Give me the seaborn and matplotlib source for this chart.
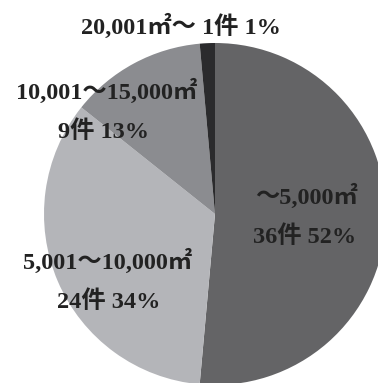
import matplotlib
matplotlib.use("Agg")
import matplotlib.pyplot as plt
import seaborn as sns

# Floor-area brackets, number of cases per bracket
categories = ["～5,000㎡", "5,001～10,000㎡", "10,001～15,000㎡", "20,001㎡～"]
counts = [36, 24, 9, 1]
percents = [52, 34, 13, 1]

sns.set_theme(style="white")
plt.rcParams["font.family"] = ["Liberation Serif", "Noto Sans CJK JP"]

colors = ["#646466", "#b4b5b9", "#8b8c90", "#2b2b2d"]

W, H = 378, 383
fig = plt.figure(figsize=(W / 100, H / 100), dpi=100)

# pie centre and radius in pixels
cx, cy, r = 215, 214, 171
ax = fig.add_axes([(cx - r) / W, (H - cy - r) / H, 2 * r / W, 2 * r / H])
ax.pie(counts, colors=colors, startangle=90, counterclock=False,
       wedgeprops=dict(linewidth=0))
ax.set_xlim(-1, 1)
ax.set_ylim(-1, 1)
ax.set_aspect("auto")
ax.axis("off")

txt = dict(fontsize=17.5, fontweight="bold", color="#222222",
           ha="center", va="center")

def put(x, y, s):
    fig.text(x / W, 1 - y / H, s, **txt)

lab = [f"{c}件 {p}%" for c, p in zip(counts, percents)]
put(306, 196, categories[0])
put(305, 237, lab[0])
put(108, 261, categories[1])
put(109, 302, lab[1])
put(107, 91, categories[2])
put(104, 132, lab[2])
put(181, 26, f"{categories[3]} {lab[3]}")

fig.savefig("out.png", dpi=100)
